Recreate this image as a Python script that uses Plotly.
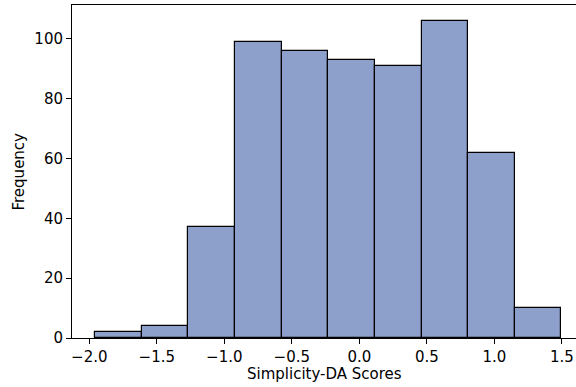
import plotly.graph_objects as go

# Histogram data
bin_edges = [-1.958, -1.612, -1.267, -0.921, -0.575, -0.230, 0.115, 0.461, 0.806, 1.152, 1.497]
counts = [2, 4, 37, 99, 96, 93, 91, 106, 62, 10]
x_ticks = [-2.0, -1.5, -1.0, -0.5, 0.0, 0.5, 1.0, 1.5]
y_ticks = [0, 20, 40, 60, 80, 100]
x_label = "Simplicity-DA Scores"
y_label = "Frequency"

centers = [(bin_edges[i] + bin_edges[i + 1]) / 2 for i in range(len(counts))]
widths = [bin_edges[i + 1] - bin_edges[i] for i in range(len(counts))]

fig = go.Figure(go.Bar(
    x=centers, y=counts, width=widths,
    marker=dict(color="#8da0cb", line=dict(color="black", width=1.2)),
))

font = dict(family="DejaVu Sans", size=15, color="black")
fig.update_layout(
    width=576, height=387,
    margin=dict(l=72, r=0, t=5, b=49, autoexpand=False),
    paper_bgcolor="white", plot_bgcolor="white",
    showlegend=False, font=font, bargap=0,
    annotations=[
        dict(text=x_label, xref="paper", yref="paper", x=0.5, y=0, yshift=-36,
             xanchor="center", yanchor="middle", showarrow=False, font=font),
        dict(text=y_label, xref="paper", yref="paper", x=0, y=0.5, xshift=-54,
             xanchor="center", yanchor="middle", textangle=-90, showarrow=False, font=font),
    ],
)
fig.update_xaxes(
    range=[-2.128, 1.605], tickvals=x_ticks, tickformat=".1f", automargin=False,
    showgrid=False, zeroline=False, showline=True, linecolor="black", linewidth=1,
    mirror=True, ticks="outside", ticklen=5, tickwidth=1, tickcolor="black",
)
fig.update_yaxes(
    range=[0, 111.3], tickvals=y_ticks, automargin=False,
    showgrid=False, zeroline=False, showline=True, linecolor="black", linewidth=1,
    ticks="outside", ticklen=5, tickwidth=1, tickcolor="black",
)
fig.write_html(
    "out.html",
    config={"displayModeBar": False},
    post_script="document.body.style.margin='0';document.body.style.overflow='hidden';",
)
